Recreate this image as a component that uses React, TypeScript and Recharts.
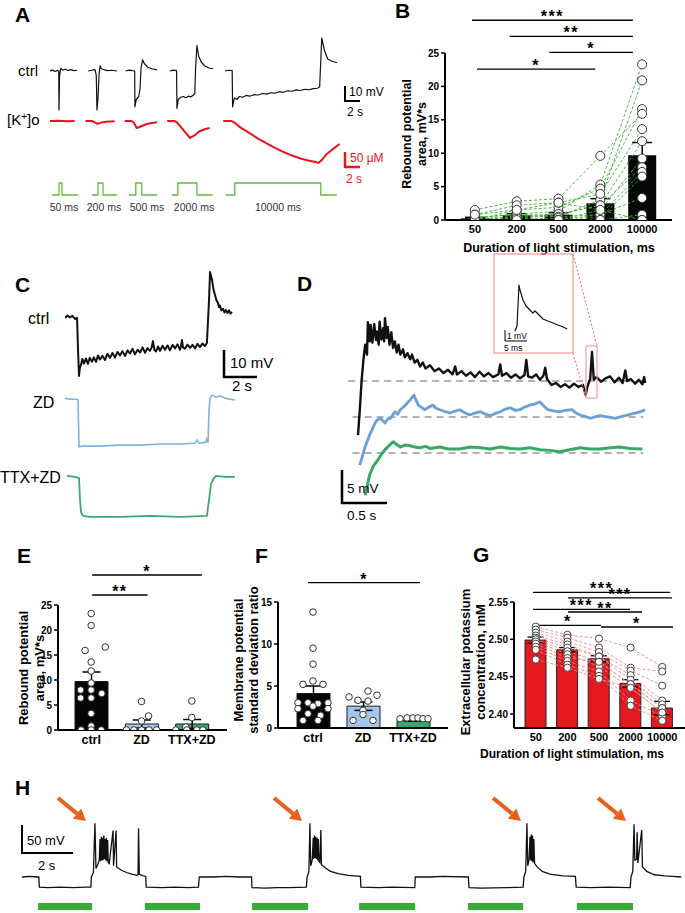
import React from 'react';
import {
  LineChart, Line, XAxis, YAxis, ComposedChart, Bar, ErrorBar, Scatter,
  ReferenceLine, ReferenceArea, Cell,
} from 'recharts';

const FONT = 'Arial, "Liberation Sans", Helvetica, sans-serif';
type P = [number, number];

// ---------------- Panel A (time s, ctrl mV, [K+]o µM, light on/off) ----------------
const aCtrlSweeps: P[][] = [
  [[0,0],[0.3,0.6],[0.6,-0.3],[0.9,0.4],[1.03,0],[1.06,-26],[1.12,-4],[1.25,1.8],[1.5,0.6],[1.8,1.2],[2.1,0.3],[2.4,0.9],[2.8,0.2],[3.2,0.5]],
  [[4.5,0],[4.9,0.5],[5.3,0.9],[5.45,-3],[5.53,-26],[5.65,-18],[5.78,-2],[5.9,3.5],[6.05,1.5],[6.4,0.8],[6.8,0.3],[7.3,0.5],[7.9,0]],
  [[8.9,0],[9.3,0.6],[9.7,0.2],[9.97,0],[10.0,-24],[10.15,-19],[10.45,-17],[10.6,-12],[10.72,2],[10.9,7.5],[11.1,5],[11.5,2.5],[12.0,1.5],[12.6,0.8]],
  [[14.1,0],[14.5,0.6],[14.9,0.2],[14.95,-25],[15.1,-19],[15.4,-17.5],[15.7,-17],[16.0,-17.8],[16.3,-16.8],[16.6,-17.2],[16.9,-16],[17.05,-15],[17.15,3],[17.3,17],[17.5,10],[17.8,6],[18.2,3.5],[18.7,2],[19.2,1.5]],
  [[20.6,0],[21.0,0.5],[21.45,0.2],[21.5,-24],[21.7,-18],[22.0,-19],[22.3,-17],[22.7,-17.5],[23.1,-16.3],[23.5,-16.8],[24.0,-15.8],[24.5,-16],[25.0,-15],[25.5,-15.4],[26.0,-14.5],[26.5,-14.8],[27.0,-13.8],[27.5,-14.2],[28.0,-13.2],[28.5,-13.5],[29.0,-12.6],[29.5,-13],[30.0,-12.2],[30.5,-12.5],[31.0,-11.8],[31.5,-11.5],[31.75,-10.5],[32.0,22],[32.3,14],[32.7,8],[33.2,6.5],[33.8,5.5]],
];
const aKSweeps: P[][] = [
  [[0,0],[1,0.5],[2,-0.5],[2.9,0]],
  [[4.2,0],[5.0,0],[5.4,-6],[5.6,-9],[6.0,-5],[6.6,-2],[7.6,-1]],
  [[8.8,0],[9.6,0],[9.9,-6],[10.2,-22],[10.6,-18],[11.3,-10],[12,-6],[12.6,-4]],
  [[13.8,0],[14.6,0],[14.9,-3],[15.4,-18],[16.0,-38],[16.5,-53],[17.0,-45],[17.6,-32],[18.3,-25],[18.8,-22]],
  [[20.4,0],[21.4,0],[21.8,-6],[22.4,-20],[23.5,-38],[24.5,-55],[25.5,-70],[26.5,-84],[27.5,-97],[28.5,-108],[29.5,-117],[30.5,-124],[31.3,-128],[31.6,-131],[32.0,-122],[32.6,-103],[33.3,-88],[34.1,-72]],
];
const aLightSweeps: P[][] = [
  [[0.24,0],[1.06,0],[1.06,1],[1.41,1],[1.41,0],[3.29,0]],
  [[4.94,0],[5.65,0],[5.65,1],[6.24,1],[6.24,0],[7.88,0]],
  [[9.29,0],[10.1,0],[10.1,1],[10.8,1],[10.8,0],[12.6,0]],
  [[14.35,0],[15.06,0],[15.06,1],[17.3,1],[17.3,0],[19.18,0]],
  [[20.7,0],[21.76,0],[21.76,1],[31.88,1],[31.88,0],[33.76,0]],
];
const aDurLabels = ['50 ms', '200 ms', '500 ms', '2000 ms', '10000 ms'];

// ---------------- Panel B ----------------
const durations = ['50', '200', '500', '2000', '10000'];
const bMeans = [0.25, 0.7, 0.8, 2.5, 9.7];
const bErr = [0.15, 0.25, 0.3, 0.7, 1.9];
const bCells: number[][] = [
  [0.3, 0.9, 1.3, 5.3, 23.3],
  [0.1, 0.5, 0.5, 3.0, 20.9],
  [0, 1.5, 1.9, 4.7, 16.6],
  [1.5, 2.8, 3.2, 9.6, 15.9],
  [0.8, 2.2, 2.6, 3.9, 13.6],
  [0, 0.3, 0.8, 2.2, 11.8],
  [0, 0, 0, 1.5, 9.2],
  [0, 0.6, 0.9, 2.2, 7.9],
  [0.3, 0.9, 0.5, 0.8, 7.2],
  [0, 0, 0.3, 0.3, 6.5],
  [0, 0, 0, 0.8, 3.3],
  [0, 0.3, 0, 0, 0.8],
  [0, 0, 0, 0, 0],
  [0.8, 1.5, 2.6, 1.5, 0],
];
const bSig = [
  { x1: -0.07, x2: 3.78, y: 29.9, s: '***' },
  { x1: 0.83, x2: 3.78, y: 27.5, s: '**' },
  { x1: 1.78, x2: 3.78, y: 25.1, s: '*' },
  { x1: 0.05, x2: 2.88, y: 22.6, s: '*' },
];

// ---------------- Panel C (time s, mV) ----------------
const cCtrl: P[] = [[0,0],[0.15,0.9],[0.3,0.2],[0.45,0.8],[0.6,-0.4],[0.73,0],[0.79,-11.9],[0.85,-21.5],[0.9,-18.5],[0.97,-17.4],[1.05,-15.2],[1.15,-16.9],[1.27,-15.0],[1.39,-17],[1.5,-14.8],[1.64,-16.2],[1.75,-14.6],[1.88,-16.3],[2.0,-13.9],[2.12,-15.4],[2.27,-14.0],[2.42,-15.6],[2.57,-13.3],[2.73,-14.8],[2.88,-13.0],[3.03,-14.7],[3.18,-12.6],[3.33,-13.9],[3.48,-12.3],[3.64,-14.1],[3.79,-12.0],[3.94,-13.2],[4.09,-11.4],[4.24,-13.5],[4.4,-11.8],[4.55,-12.8],[4.7,-10.9],[4.85,-12.9],[5.0,-11.2],[5.15,-12.2],[5.25,-11.0],[5.33,-8.6],[5.42,-11.9],[5.52,-12.4],[5.64,-10.6],[5.76,-12.2],[5.91,-10.3],[6.06,-11.8],[6.21,-10.2],[6.36,-12.0],[6.52,-10.0],[6.67,-11.3],[6.82,-9.8],[6.97,-11.8],[7.03,-10.5],[7.09,-8.2],[7.15,-10.9],[7.27,-11.4],[7.42,-9.9],[7.58,-11.1],[7.73,-10.0],[7.88,-11.3],[8.03,-9.6],[8.18,-10.8],[8.33,-9.5],[8.48,-10.4],[8.6,-9.3],[8.73,6.7],[8.79,17],[8.91,14.1],[9.0,10.5],[9.09,8.5],[9.18,6.5],[9.27,5.6],[9.33,4.0],[9.39,4.6],[9.48,2.8],[9.58,3.4],[9.67,2.0],[9.76,2.9],[9.85,1.8],[9.94,2.8],[10.03,1.6],[10.12,2.2]];
const cZD: P[] = [[0,1.1],[0.3,0.7],[0.67,0.7],[0.79,0.4],[0.85,-17],[0.97,-16.7],[2.12,-16.7],[3.33,-16.3],[4.55,-16.3],[5.76,-15.9],[6.97,-15.9],[7.88,-15.6],[8.0,-14.4],[8.12,-15.6],[8.55,-15.2],[8.6,-13.7],[8.67,-15.2],[8.73,-3.3],[8.79,1.1],[8.91,2.2],[9.15,1.5],[9.39,1.9],[9.7,1.1],[10.0,0.7],[10.3,0.4]];
const cTTX: P[] = [[0.12,0.4],[0.6,0],[0.85,-0.4],[0.91,-8.5],[0.97,-13],[1.09,-14.4],[1.52,-14.8],[3.33,-14.8],[5.15,-14.4],[6.97,-14.8],[8.6,-14.4],[8.73,-8.5],[8.85,-2.6],[9.03,-0.4],[9.15,0.4],[9.7,0],[10.3,0]];

// ---------------- Panel D (time s, mV relative to steady state) ----------------
const dCtrl: P[] = [[0.20,-8.2],[0.22,-4.4],[0.24,0],[0.26,3.2],[0.28,5.5],[0.30,4.0],[0.31,8.9],[0.33,6.0],[0.34,8.5],[0.36,5.8],[0.38,8.6],[0.40,6.2],[0.41,7.5],[0.43,5.5],[0.44,9.0],[0.46,6.3],[0.48,8.0],[0.49,6.0],[0.50,9.5],[0.52,6.5],[0.53,8.2],[0.55,5.5],[0.57,7.4],[0.59,5.0],[0.61,6.0],[0.63,4.3],[0.65,5.5],[0.67,4.0],[0.70,4.8],[0.72,3.6],[0.75,4.2],[0.78,3.3],[0.80,4.0],[0.83,2.8],[0.86,3.2],[0.89,2.2],[0.92,2.8],[0.95,1.9],[1.0,2.4],[1.05,1.5],[1.1,1.9],[1.15,1.2],[1.2,1.7],[1.25,1.0],[1.28,2.2],[1.30,1.0],[1.35,1.5],[1.40,0.8],[1.45,1.3],[1.5,0.6],[1.55,1.4],[1.6,0.7],[1.65,1.2],[1.70,0.6],[1.76,1.0],[1.78,2.5],[1.80,0.8],[1.85,1.2],[1.9,0.5],[1.95,1.0],[2.0,0.4],[2.05,0.9],[2.07,3.2],[2.09,0.7],[2.13,0.5],[2.18,1.0],[2.22,0.2],[2.26,0.8],[2.28,2.0],[2.30,0.3],[2.35,-0.6],[2.40,-0.3],[2.45,-0.9],[2.50,-0.5],[2.55,-1.0],[2.60,-0.4],[2.65,-0.9],[2.70,-0.6],[2.73,-2.1],[2.75,-0.8],[2.78,0.3],[2.80,4.4],[2.82,0.2],[2.85,0.6],[2.90,-0.1],[2.95,0.4],[3.0,0.7],[3.05,-0.2],[3.10,0.5],[3.14,-0.3],[3.17,1.6],[3.19,0.0],[3.23,0.3],[3.28,-0.4],[3.32,0.2],[3.36,-0.5],[3.38,0.6],[3.39,-0.3]];
const dZD: P[] = [[0.22,-7.3],[0.28,-4.5],[0.33,-2.7],[0.38,-1.2],[0.41,-0.5],[0.45,-0.2],[0.50,-0.9],[0.53,-0.3],[0.56,-0.2],[0.61,0.8],[0.64,0.4],[0.67,1.1],[0.72,1.7],[0.78,2.6],[0.82,3.3],[0.85,2.4],[0.87,1.8],[0.91,1.4],[0.94,1.1],[0.99,1.5],[1.03,1.8],[1.07,1.3],[1.11,1.1],[1.17,0.8],[1.22,0.6],[1.28,0.9],[1.33,1.1],[1.39,0.6],[1.44,0.3],[1.5,0.6],[1.56,0.8],[1.62,0.4],[1.67,0.2],[1.72,0.5],[1.78,0.8],[1.84,1.2],[1.89,1.4],[1.95,1.0],[2.0,1.1],[2.05,1.5],[2.11,1.8],[2.17,2.0],[2.22,2.3],[2.27,1.6],[2.31,1.1],[2.38,0.9],[2.44,0.8],[2.5,1.0],[2.58,1.1],[2.62,0.6],[2.67,0.3],[2.72,0.1],[2.78,-0.2],[2.83,0.0],[2.89,0.2],[2.97,0.0],[3.06,-0.2],[3.11,0.0],[3.17,0.2],[3.22,0.4],[3.28,0.6],[3.34,0.8],[3.39,1.1]];
const dTTX: P[] = [[0.28,-6.4],[0.31,-4.5],[0.33,-3.3],[0.37,-2.0],[0.42,-1.1],[0.46,-0.2],[0.50,0.5],[0.55,1.2],[0.59,1.7],[0.63,1.3],[0.67,0.9],[0.72,1.2],[0.78,1.1],[0.83,0.9],[0.89,0.8],[0.95,1.0],[1.0,0.7],[1.11,0.9],[1.2,0.6],[1.33,0.6],[1.45,0.9],[1.56,0.8],[1.67,0.6],[1.78,0.9],[1.89,0.7],[2.0,0.6],[2.11,0.8],[2.22,0.5],[2.33,0.4],[2.44,0.2],[2.55,0.5],[2.67,0.8],[2.78,0.6],[2.89,0.6],[3.0,0.8],[3.11,0.9],[3.22,0.7],[3.36,0.6]];
const dInset: P[] = [[-0.45,-0.2],[0,0.3],[0.23,2.4],[0.45,4.4],[0.68,3.9],[1.36,2.9],[2.05,2.3],[2.95,1.9],[3.6,1.6],[4.1,1.8],[4.8,1.5],[5.9,1.0],[7.0,0.8],[8.2,0.6],[9.3,0.4],[10.5,0.2],[11.4,0]];

// ---------------- Panel E ----------------
const groups = ['ctrl', 'ZD', 'TTX+ZD'];
const eMeans = [9.7, 1.2, 1.2];
const eErr = [1.9, 0.8, 0.9];
const ePoints: P[][] = [
  [[0,23.3],[0,20.9],[0.28,16.6],[-0.12,15.9],[0,13.6],[0,11.8],[0,9.4],[-0.21,8.0],[0,8.0],[0.21,7.3],[-0.21,6.4],[0,6.4],[0,3.3],[0,0.8],[-0.2,0],[0,0],[0.2,0]],
  [[0,5.7],[0.14,2.8],[0,1.8],[-0.3,0],[-0.15,0],[0,0],[0.15,0],[0.3,0]],
  [[0,5.8],[0,2.5],[-0.12,0.6],[-0.32,0],[-0.1,0],[0.1,0],[0.22,0]],
];
const eSig = [
  { x1: 0.02, x2: 1.12, y: 27, s: '**' },
  { x1: 0.02, x2: 2.2, y: 31, s: '*' },
];

// ---------------- Panel F ----------------
const fMeans = [4.1, 2.6, 0.9];
const fErr = [0.9, 0.5, 0.1];
const fPoints: P[][] = [
  [[0,13.8],[0,9.5],[0,7.6],[0,5.6],[-0.2,5.2],[0.2,5.2],[-0.3,3.0],[-0.1,3.0],[0.1,2.9],[0.3,3.0],[-0.3,2.3],[0,2.6],[0.3,2.3],[-0.1,1.7],[0.15,1.5],[-0.2,0.9],[0.1,0.9]],
  [[0.1,4.4],[-0.28,3.7],[0.28,3.9],[-0.1,3.3],[0.1,3.2],[0,2.1],[0,1.6],[-0.2,0.9],[0.2,0.9]],
  [[-0.26,1.1],[-0.12,1.2],[0,1.2],[0.1,1.2],[0.2,1.1],[0.3,1.1]],
];
const fSig = [{ x1: -0.1, x2: 2.14, y: 17.3, s: '*' }];

// ---------------- Panel G ----------------
const gMeans = [2.499, 2.486, 2.474, 2.441, 2.408];
const gErr = [0.004, 0.003, 0.004, 0.005, 0.009];
const gCells: number[][] = [
  [2.517, 2.506, 2.501, 2.489, 2.463],
  [2.513, 2.502, 2.489, 2.462, 2.457],
  [2.509, 2.497, 2.483, 2.458, 2.438],
  [2.505, 2.493, 2.477, 2.452, 2.418],
  [2.502, 2.489, 2.477, 2.446, 2.413],
  [2.500, 2.484, 2.470, 2.440, 2.408],
  [2.497, 2.480, 2.464, 2.435, 2.402],
  [2.494, 2.475, 2.470, 2.440, 2.408],
  [2.490, 2.471, 2.457, 2.418, 2.397],
  [2.486, 2.466, 2.451, 2.411, 2.391],
  [2.473, 2.462, 2.447, 2.435, 2.402],
];
const gSig = [
  { x1: -0.09, x2: 4.25, y: 2.5629, s: '***' },
  { x1: -0.09, x2: 2.98, y: 2.5402, s: '***' },
  { x1: -0.03, x2: 2.06, y: 2.5187, s: '*' },
  { x1: 1.02, x2: 4.31, y: 2.5554, s: '***' },
  { x1: 1.02, x2: 3.36, y: 2.5366, s: '**' },
  { x1: 2.06, x2: 4.34, y: 2.5165, s: '*' },
];

// ---------------- Panel H (time s, mV) ----------------
const hTrace: P[] = [[0,-60],[0.3,-59],[0.6,-60],[0.66,-60],[0.68,-78],[1.0,-79],[1.5,-78],[2.0,-79],[2.5,-78],[2.7,-78],
  [2.72,-60],[2.8,-52],[2.86,36],[2.9,-45],[2.97,-38],[3.03,-30],[3.06,8],[3.08,-32],[3.11,12],[3.13,-30],[3.16,10],[3.18,-30],[3.21,14],[3.23,-28],[3.26,8],[3.28,-30],[3.31,10],[3.33,-32],[3.36,6],[3.38,-34],[3.42,-36],[3.57,23],[3.59,-40],[3.69,23],[3.71,-42],[3.9,-48],[4.1,-52],[4.3,-55],[4.5,-57],[4.55,-56],[4.57,27],[4.6,-55],[4.75,-58],[4.85,-59],[4.87,-78],[5.5,-79],[6.0,-78],[6.5,-79],[6.92,-78],[6.95,-60],[7.5,-60],[8.0,-59],[8.5,-60],[9.0,-60],[9.02,-79],[9.5,-80],[10,-79],[10.5,-79],[11.15,-78],
  [11.18,-60],[11.25,-50],[11.29,36],[11.32,-40],[11.38,-30],[11.42,10],[11.44,-28],[11.47,14],[11.49,-26],[11.52,12],[11.54,-28],[11.57,10],[11.59,-30],[11.62,8],[11.64,-32],[11.68,-34],[11.72,24],[11.74,-38],[11.9,-44],[12.1,-50],[12.4,-54],[12.8,-57],[13.27,-59],[13.29,-78],[14,-79],[14.5,-78],[15.4,-79],[15.42,-60],[16,-60],[16.5,-59],[17.5,-60],[17.53,-79],[18,-80],[19,-79],[19.65,-78],
  [19.68,-60],[19.75,-50],[19.8,36],[19.83,-40],[19.88,-30],[19.92,12],[19.94,-30],[19.97,16],[19.99,-32],[20.02,14],[20.04,-34],[20.07,8],[20.1,-36],[20.2,-42],[20.4,-50],[20.7,-55],[21.2,-58],[21.7,-59],[21.73,-78],[22.3,-79],[23,-78],[23.85,-79],
  [23.88,-60],[23.95,-50],[24.0,34],[24.03,-30],[24.1,-28],[24.12,20],[24.15,-35],[24.3,24],[24.33,-42],[24.5,-50],[24.8,-56],[25.2,-58],[25.5,-59],[25.85,-60]];
const hStim: P[] = [[0.63,2.75],[4.82,6.98],[9.02,11.22],[13.22,15.41],[17.49,19.65],[21.76,23.96]];

// ---------------- helpers ----------------
const toData = (pts: P[]) => pts.map(([t, v]) => ({ t, v }));
const sweepsToData = (sw: P[][]) => {
  const out: { t: number; v: number | null }[] = [];
  sw.forEach((s) => {
    s.forEach(([t, v]) => out.push({ t, v }));
    out.push({ t: s[s.length - 1][0] + 0.05, v: null });
  });
  return out;
};

const AX = { stroke: '#000', strokeWidth: 2 };
const TICKY = { fontSize: 10, fontWeight: 700, fill: '#000', fontFamily: FONT };
const TICKX = { fontSize: 11, fontWeight: 700, fill: '#000', fontFamily: FONT };
const TICKXE = { fontSize: 12.5, fontWeight: 700, fill: '#000', fontFamily: FONT };

const starLabel = (txt: string) => (p: any) => {
  const vb = p.viewBox || {};
  const cx = vb.x1 != null ? (vb.x1 + vb.x2) / 2 : vb.x + vb.width / 2;
  const cy = vb.y1 != null ? vb.y1 : vb.y;
  return (
    <text x={cx} y={cy + 2} textAnchor="middle" fontSize={16} fontWeight={700} fontFamily={FONT} fill="#000" letterSpacing={1.5}>
      {txt}
    </text>
  );
};

function Trace({ box, xDomain, series, children }: any) {
  return (
    <div style={{ position: 'absolute', left: box[0], top: box[1] }}>
      <LineChart width={box[2]} height={box[3]} margin={{ top: 0, right: 0, bottom: 0, left: 0 }}>
        <XAxis type="number" dataKey="t" domain={xDomain} hide allowDataOverflow />
        {series.map((s: any) => (
          <YAxis key={'y' + s.id} yAxisId={s.id} type="number" domain={s.domain} hide allowDataOverflow />
        ))}
        {children}
        {series.map((s: any) => (
          <Line key={'l' + s.id} yAxisId={s.id} data={s.data} dataKey="v" stroke={s.color} strokeWidth={s.w}
            dot={false} isAnimationActive={false} strokeLinejoin="round" />
        ))}
      </LineChart>
    </div>
  );
}

function PanelB() {
  const rows = durations.map((d, i) => {
    const r: any = { dur: d, mean: bMeans[i], err: bErr[i] };
    bCells.forEach((c, j) => { r['c' + j] = c[i]; });
    return r;
  });
  return (
    <div style={{ position: 'absolute', left: 400, top: 0 }}>
      <ComposedChart width={285} height={260} data={rows} margin={{ top: 53, right: 13, left: 20, bottom: 10 }}>
        <XAxis xAxisId="c" dataKey="dur" interval={0} tickLine={false} axisLine={AX} tick={TICKX} height={30} tickSize={3} padding={{ left: 9, right: 9 }} />
        <XAxis xAxisId="n" type="number" dataKey="x" domain={[-0.5, 4.5]} hide allowDataOverflow padding={{ left: 9, right: 9 }} />
        <YAxis domain={[0, 25]} ticks={[0, 5, 10, 15, 20, 25]} interval={0} width={25} tick={TICKY} axisLine={AX} tickLine={{ stroke: '#000', strokeWidth: 1.5 }} tickSize={4} allowDataOverflow />
        <Bar xAxisId="c" dataKey="mean" fill="#050805" barSize={28} isAnimationActive={false}>
          <ErrorBar dataKey="err" width={10} stroke="#000" strokeWidth={1.5} direction="y" />
        </Bar>
        {bCells.map((_, j) => (
          <Line key={'l' + j} xAxisId="c" dataKey={'c' + j} stroke="#3cb034" strokeWidth={0.9} strokeDasharray="3 2" dot={false} isAnimationActive={false} />
        ))}
        {bCells.map((_, j) => (
          <Line key={'d' + j} xAxisId="c" dataKey={'c' + j} stroke="none" dot={{ r: 4.5, fill: '#fff', stroke: '#333', strokeWidth: 1 }} isAnimationActive={false} />
        ))}
        {bSig.map((s, i) => (
          <ReferenceLine key={'s' + i} xAxisId="n" ifOverflow="visible" stroke="#000" strokeWidth={1.3}
            segment={[{ x: s.x1, y: s.y }, { x: s.x2, y: s.y }]} label={starLabel(s.s)} />
        ))}
      </ComposedChart>
    </div>
  );
}

function GroupPanel({ left, top, width, height, margin, yDomain, yTicks, yW, pad, means, errs, points, sig, colors }: any) {
  const rows = groups.map((g, i) => ({ grp: g, mean: means[i], err: errs[i] }));
  const pts = points.flatMap((arr: P[], gi: number) => arr.map(([dx, y]) => ({ x: gi + dx, y })));
  return (
    <div style={{ position: 'absolute', left, top }}>
      <ComposedChart width={width} height={height} data={rows} margin={margin}>
        <XAxis xAxisId="c" dataKey="grp" interval={0} tickLine={false} axisLine={AX} tick={TICKXE} height={20} tickSize={3} padding={pad} />
        <XAxis xAxisId="n" type="number" dataKey="x" domain={[-0.5, 2.5]} hide allowDataOverflow padding={pad} />
        <YAxis domain={yDomain} ticks={yTicks} interval={0} width={yW} tick={TICKY} axisLine={AX} tickLine={{ stroke: '#000', strokeWidth: 1.5 }} tickSize={4} allowDataOverflow />
        <Bar xAxisId="c" dataKey="mean" barSize={33} stroke="#1a1a1a" strokeWidth={1} isAnimationActive={false}>
          {rows.map((_, i) => <Cell key={i} fill={colors[i]} />)}
          <ErrorBar dataKey="err" width={9} stroke="#000" strokeWidth={1.5} direction="y" />
        </Bar>
        <Scatter xAxisId="n" data={pts} dataKey="y" isAnimationActive={false}
          shape={(p: any) => <circle cx={p.cx} cy={p.cy} r={3.3} fill="#fff" stroke="#333" strokeWidth={1} />} />
        {sig.map((s: any, i: number) => (
          <ReferenceLine key={'s' + i} xAxisId="n" ifOverflow="visible" stroke="#000" strokeWidth={1.3}
            segment={[{ x: s.x1, y: s.y }, { x: s.x2, y: s.y }]} label={starLabel(s.s)} />
        ))}
      </ComposedChart>
    </div>
  );
}

function PanelG() {
  const rows = durations.map((d, i) => {
    const r: any = { dur: d, mean: gMeans[i], err: gErr[i] };
    gCells.forEach((c, j) => { r['c' + j] = c[i]; });
    return r;
  });
  return (
    <div style={{ position: 'absolute', left: 470, top: 540 }}>
      <ComposedChart width={215} height={210} data={rows} margin={{ top: 62, right: 0, left: 0, bottom: 2 }}>
        <XAxis xAxisId="c" dataKey="dur" interval={0} tickLine={false} axisLine={AX} tick={TICKX} height={20} tickSize={3} padding={{ left: 6, right: 7 }} />
        <XAxis xAxisId="n" type="number" dataKey="x" domain={[-0.5, 4.5]} hide allowDataOverflow padding={{ left: 6, right: 7 }} />
        <YAxis domain={[2.3813, 2.55]} ticks={[2.4, 2.45, 2.5, 2.55]} interval={0} width={44} tick={TICKY} tickFormatter={(v: number) => v.toFixed(2)} axisLine={AX} tickLine={{ stroke: '#000', strokeWidth: 1.5 }} tickSize={4} allowDataOverflow />
        <Bar xAxisId="c" dataKey="mean" fill="#e3191f" stroke="#222" strokeWidth={1} barSize={21} isAnimationActive={false}>
          <ErrorBar dataKey="err" width={8} stroke="#000" strokeWidth={1.3} direction="y" />
        </Bar>
        {gCells.map((_, j) => (
          <Line key={'l' + j} xAxisId="c" dataKey={'c' + j} stroke="#f08a8a" strokeWidth={0.9} strokeDasharray="3 2" dot={false} isAnimationActive={false} />
        ))}
        {gCells.map((_, j) => (
          <Line key={'d' + j} xAxisId="c" dataKey={'c' + j} stroke="none" dot={{ r: 3.6, fill: '#fff', stroke: '#444', strokeWidth: 1 }} isAnimationActive={false} />
        ))}
        {gSig.map((s, i) => (
          <ReferenceLine key={'s' + i} xAxisId="n" ifOverflow="visible" stroke="#000" strokeWidth={1.3}
            segment={[{ x: s.x1, y: s.y }, { x: s.x2, y: s.y }]} label={starLabel(s.s)} />
        ))}
      </ComposedChart>
    </div>
  );
}

function PanelH() {
  return (
    <div style={{ position: 'absolute', left: 22, top: 800 }}>
      <LineChart width={660} height={113} margin={{ top: 0, right: 0, bottom: 0, left: 0 }}>
        <XAxis type="number" dataKey="t" domain={[0, 25.88]} hide allowDataOverflow />
        <YAxis yAxisId="v" type="number" domain={[-124.3, 77.5]} hide allowDataOverflow />
        <YAxis yAxisId="s" type="number" domain={[0, 10]} hide allowDataOverflow />
        {hStim.map(([a, b], i) => (
          <ReferenceArea key={i} yAxisId="s" x1={a} x2={b} y1={0.27} y2={0.88} fill="#3aab36" fillOpacity={1} stroke="none" />
        ))}
        <Line yAxisId="v" data={toData(hTrace)} dataKey="v" stroke="#111" strokeWidth={1.3} dot={false} isAnimationActive={false} />
      </LineChart>
    </div>
  );
}

function Arrow({ hx, hy }: { hx: number; hy: number }) {
  const tx = hx - 28, ty = hy - 23;
  const bx = hx - 9, by = hy - 7.4;
  return (
    <g>
      <line x1={tx} y1={ty} x2={bx} y2={by} stroke="#e8601c" strokeWidth={4} />
      <polygon points={`${hx},${hy} ${bx - 4.2},${by + 5.2} ${bx + 4.2},${by - 5.2}`} fill="#e8601c" />
    </g>
  );
}

function Overlay() {
  const T = (x: number, y: number, s: string, fs = 13, extra: any = {}) => (
    <text x={x} y={y} fontSize={fs} fontFamily={FONT} {...extra}>{s}</text>
  );
  const RT = (x: number, y: number, s: string, fs = 13) => (
    <text transform={`translate(${x},${y}) rotate(-90)`} textAnchor="middle" dominantBaseline="central" fontSize={fs} fontWeight={700} fontFamily={FONT}>{s}</text>
  );
  const durCenters = [64, 104, 147, 194, 278];
  return (
    <svg width={685} height={913} style={{ position: 'absolute', left: 0, top: 0, pointerEvents: 'none' }}>
      {/* panel letters */}
      {T(15, 22, 'A', 21, { fontWeight: 700 })}
      {T(395, 18, 'B', 21, { fontWeight: 700 })}
      {T(15, 292, 'C', 21, { fontWeight: 700 })}
      {T(297, 291, 'D', 21, { fontWeight: 700 })}
      {T(17, 563, 'E', 21, { fontWeight: 700 })}
      {T(255, 563, 'F', 21, { fontWeight: 700 })}
      {T(473, 562, 'G', 21, { fontWeight: 700 })}
      {T(15, 795, 'H', 21, { fontWeight: 700 })}

      {/* A */}
      {T(18, 76, 'ctrl', 15)}
      <text x={7} y={125} fontSize={15} fontFamily={FONT}>
        <tspan>[K</tspan><tspan dy={-5} fontSize={10}>+</tspan><tspan dy={5}>]o</tspan>
      </text>
      {aDurLabels.map((s, i) => (
        <text key={s} x={durCenters[i]} y={211} textAnchor="middle" fontSize={10.5} fill="#333" fontFamily={FONT}>{s}</text>
      ))}
      <path d="M345 86 V101 H360" fill="none" stroke="#000" strokeWidth={2} />
      {T(349, 96, '10 mV', 12)}
      {T(347, 116, '2 s', 12)}
      <path d="M345 152 V167 H360" fill="none" stroke="#e8141c" strokeWidth={2.5} />
      {T(350, 162, '50 µM', 12, { fill: '#e8141c' })}
      {T(346, 183, '2 s', 12, { fill: '#e8141c' })}

      {/* B */}
      {RT(407, 134, 'Rebound potential', 12.5)}
      {RT(422, 134, 'area, mV*s', 12.5)}
      <text x={559} y={252} textAnchor="middle" fontSize={12.5} fontWeight={700} fontFamily={FONT}>Duration of light stimulation, ms</text>

      {/* C */}
      {T(28, 324, 'ctrl', 16)}
      {T(33, 408, 'ZD', 16)}
      {T(0, 483, 'TTX+ZD', 16)}
      <path d="M224 350 V377 H257" fill="none" stroke="#000" strokeWidth={2.5} />
      {T(230, 368, '10 mV', 15)}
      {T(232, 391, '2 s', 15)}

      {/* D */}
      <path d="M342 470 V503 H387" fill="none" stroke="#000" strokeWidth={2.5} />
      {T(347, 493, '5 mV', 13.5)}
      {T(347, 520, '0.5 s', 13.5)}
      <rect x={494} y={254} width={79} height={99} fill="none" stroke="#f2a0a0" strokeWidth={1.3} />
      <rect x={586} y={346} width={11} height={52} fill="none" stroke="#f2a0a0" strokeWidth={1.2} />
      <line x1={573} y1={254} x2={597} y2={346} stroke="#f08080" strokeWidth={1.2} strokeDasharray="2 2" />
      <line x1={573} y1={353} x2={586} y2={398} stroke="#f08080" strokeWidth={1.2} strokeDasharray="2 2" />
      <path d="M505 330 V341 H527" fill="none" stroke="#000" strokeWidth={1} />
      {T(507, 339, '1 mV', 8.5)}
      {T(504, 351, '5 ms', 8.5)}

      {/* E F G axis titles */}
      {RT(23, 668, 'Rebound potential', 13)}
      {RT(39, 668, 'area, mV*s', 13)}
      {RT(238, 660, 'Membrane potential', 13)}
      {RT(253, 660, 'standard deviation ratio', 13)}
      {RT(465, 662, 'Extracellular potassium', 13)}
      {RT(480, 662, 'concentration, mM', 13)}
      <text x={572} y={758} textAnchor="middle" fontSize={12} fontWeight={700} fontFamily={FONT}>Duration of light stimulation, ms</text>

      {/* H */}
      <path d="M22 825 V853 H73" fill="none" stroke="#000" strokeWidth={2} />
      {T(27, 845, '50 mV', 13)}
      {T(38, 870, '2 s', 13)}
      <Arrow hx={86} hy={821} />
      <Arrow hx={302} hy={821} />
      <Arrow hx={521} hy={821} />
      <Arrow hx={626} hy={821} />
    </svg>
  );
}

export default function App() {
  const aX: [number, number] = [0, 34.5];
  return (
    <div style={{ position: 'absolute', left: 0, top: 0, width: 685, height: 913, background: '#fff', fontFamily: FONT, overflow: 'hidden' }}>
      {/* Panel A */}
      <Trace box={[50, 30, 293, 90]} xDomain={aX}
        series={[{ id: 'k', data: sweepsToData(aCtrlSweeps), domain: [-32.67, 27.33], color: '#111', w: 1.2 }]} />
      <Trace box={[50, 110, 293, 60]} xDomain={aX}
        series={[{ id: 'r', data: sweepsToData(aKSweeps), domain: [-153.1, 34.4], color: '#e8141c', w: 2 }]} />
      <Trace box={[50, 175, 293, 25]} xDomain={aX}
        series={[{ id: 'g', data: sweepsToData(aLightSweeps), domain: [-0.417, 1.667], color: '#5cbf3a', w: 1.3 }]} />

      <PanelB />

      {/* Panel C */}
      <Trace box={[65, 265, 175, 260]} xDomain={[0, 10.606]}
        series={[
          { id: 'k', data: toData(cCtrl), domain: [-76.7, 19.6], color: '#111', w: 2 },
          { id: 'b', data: toData(cZD), domain: [-45.9, 50.4], color: '#7fb3df', w: 1.6 },
          { id: 'g', data: toData(cTTX), domain: [-17.8, 78.5], color: '#3aa96b', w: 1.8 },
        ]} />

      {/* Panel D */}
      <Trace box={[340, 290, 320, 230]} xDomain={[0, 3.5556]}
        series={[
          { id: 'k', data: toData(dCtrl), domain: [-21.06, 13.79], color: '#111', w: 2.4 },
          { id: 'b', data: toData(dZD), domain: [-15.61, 19.24], color: '#6a9fd8', w: 2.8 },
          { id: 'g', data: toData(dTTX), domain: [-10.15, 24.7], color: '#3aa864', w: 3 },
        ]}>
        <ReferenceLine yAxisId="k" segment={[{ x: 0.09, y: 0 }, { x: 3.37, y: 0 }]} stroke="#999" strokeWidth={1.3} strokeDasharray="7 5" />
        <ReferenceLine yAxisId="b" segment={[{ x: 0.14, y: 0 }, { x: 3.37, y: 0 }]} stroke="#999" strokeWidth={1.3} strokeDasharray="7 5" />
        <ReferenceLine yAxisId="g" segment={[{ x: 0.14, y: 0 }, { x: 3.37, y: 0 }]} stroke="#999" strokeWidth={1.3} strokeDasharray="7 5" />
      </Trace>
      <Trace box={[494, 254, 79, 99]} xDomain={[-5.23, 12.73]}
        series={[{ id: 'i', data: toData(dInset), domain: [-2.4, 7.5], color: '#111', w: 1.2 }]} />

      {/* Panel E */}
      <GroupPanel left={10} top={540} width={225} height={215} margin={{ top: 65, right: 8, left: 18, bottom: 5 }}
        yDomain={[0, 25]} yTicks={[0, 5, 10, 15, 20, 25]} yW={30} pad={{ left: 8, right: 10 }}
        means={eMeans} errs={eErr} points={ePoints} sig={eSig} colors={['#050505', '#a3c6ea', '#3aa76d']} />
      {/* Panel F */}
      <GroupPanel left={235} top={540} width={218} height={210} margin={{ top: 62, right: 5, left: 13, bottom: 2 }}
        yDomain={[0, 15]} yTicks={[0, 5, 10, 15]} yW={30} pad={{ left: 10, right: 10 }}
        means={fMeans} errs={fErr} points={fPoints} sig={fSig} colors={['#050505', '#a3c6ea', '#3aa76d']} />
      <PanelG />
      <PanelH />
      <Overlay />
    </div>
  );
}
